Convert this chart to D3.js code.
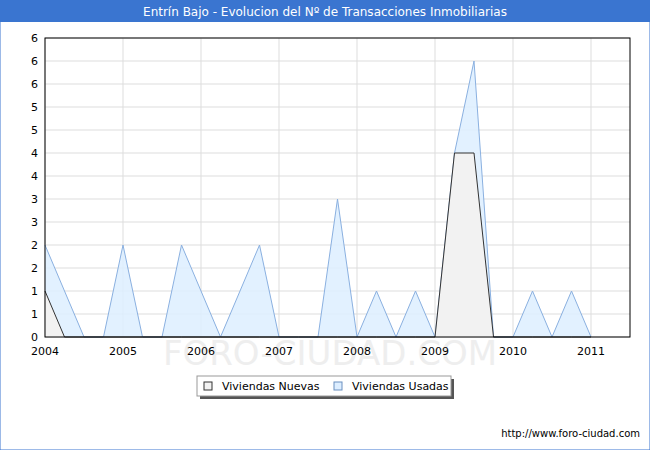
<!DOCTYPE html>
<html><head><meta charset="utf-8">
<script src="https://cdn.jsdelivr.net/npm/d3@7"></script>
<style>body{margin:0;background:#fff;font-family:Verdana,"DejaVu Sans",sans-serif}</style>
</head><body>
<script>
var title = 'Entrín Bajo - Evolucion del Nº de Transacciones Inmobiliarias';
var yearLabels = ['2004','2005','2006','2007','2008','2009','2010','2011'];
var yTickLabels = ['0','1','1','2','2','3','3','4','4','5','5','6','6','6'];
// quarterly values starting 2004 Q1
var usadas = [2,1,0,0, 2,0,0,2, 1,0,1,2, 0,0,0,3, 0,1,0,1, 0,4,6,0, 0,1,0,1, 0];
var nuevas = [1,0,0,0, 0,0,0,0, 0,0,0,0, 0,0,0,0, 0,0,0,0, 0,4,4,0, 0,0,0,0, 0];

var W = 650, H = 450;
var svg = d3.select('body').append('svg').attr('width', W).attr('height', H);
svg.append('rect').attr('x',0).attr('y',0).attr('width',W).attr('height',H).attr('fill','#fff').attr('stroke','#3a75d0');
svg.append('rect').attr('x',0).attr('y',0).attr('width',W).attr('height',22).attr('fill','#3a75d0');
svg.append('text').attr('x',W/2).attr('y',16).attr('text-anchor','middle').attr('fill','#fff')
  .style('font-size','12px').text(title);

var x = d3.scaleLinear().domain([2004, 2011.5]).range([45, 630]);
var y = d3.scaleLinear().domain([0, 6.5]).range([337, 38]);

var g = svg.append('g');
g.append('rect').attr('x',45).attr('y',38).attr('width',585).attr('height',299).attr('fill','#fff');
g.selectAll('.hg').data(d3.range(0, 6.51, 0.5)).enter().append('line')
  .attr('x1',45).attr('x2',630).attr('y1',function(d){return y(d);}).attr('y2',function(d){return y(d);})
  .attr('stroke','#ddd');
g.selectAll('.vg').data(yearLabels).enter().append('line')
  .attr('x1',function(d){return x(+d);}).attr('x2',function(d){return x(+d);})
  .attr('y1',38).attr('y2',337).attr('stroke','#ddd');

svg.append('text').attr('x',330).attr('y',365).attr('text-anchor','middle')
  .attr('fill','#eeeeee').style('font-size','34px').text('FORO-CIUDAD.COM');

function xq(i){ return 2004 + i * 0.25; }
var area = d3.area().x(function(d,i){return x(xq(i));}).y0(y(0)).y1(function(d){return y(d);});
var line = d3.line().x(function(d,i){return x(xq(i));}).y(function(d){return y(d);});
g.append('path').datum(usadas).attr('d',area).attr('fill','#ddeeff').attr('opacity',0.85);
g.append('path').datum(usadas).attr('d',line).attr('fill','none').attr('stroke','#8ab0e0');
g.append('path').datum(nuevas).attr('d',area).attr('fill','#f2f2f2');
g.append('path').datum(nuevas).attr('d',line).attr('fill','none').attr('stroke','#333');

g.append('rect').attr('x',45).attr('y',38).attr('width',585).attr('height',299).attr('fill','none').attr('stroke','#000');

svg.append('g').selectAll('text').data(yTickLabels).enter().append('text')
  .attr('x',38).attr('y',function(d,i){return y(i*0.5)+4;}).attr('text-anchor','end')
  .style('font-size','11px').text(function(d){return d;});
svg.append('g').selectAll('text').data(yearLabels).enter().append('text')
  .attr('x',function(d){return x(+d);}).attr('y',355).attr('text-anchor','middle')
  .style('font-size','11px').text(function(d){return d;});

var lg = svg.append('g');
lg.append('rect').attr('x',200).attr('y',379).attr('width',254).attr('height',20).attr('fill','#555');
lg.append('rect').attr('x',197).attr('y',376).attr('width',254).attr('height',20).attr('fill','#fff').attr('stroke','#999');
lg.append('rect').attr('x',204).attr('y',382).attr('width',8).attr('height',8).attr('fill','#f2f2f2').attr('stroke','#333');
lg.append('text').attr('x',222).attr('y',390).style('font-size','11px').text('Viviendas Nuevas');
lg.append('rect').attr('x',334).attr('y',382).attr('width',8).attr('height',8).attr('fill','#ddeeff').attr('stroke','#6a90c0');
lg.append('text').attr('x',352).attr('y',390).style('font-size','11px').text('Viviendas Usadas');

svg.append('text').attr('x',640).attr('y',437).attr('text-anchor','end').style('font-size','10px').text('http://www.foro-ciudad.com');
</script>
</body></html>
